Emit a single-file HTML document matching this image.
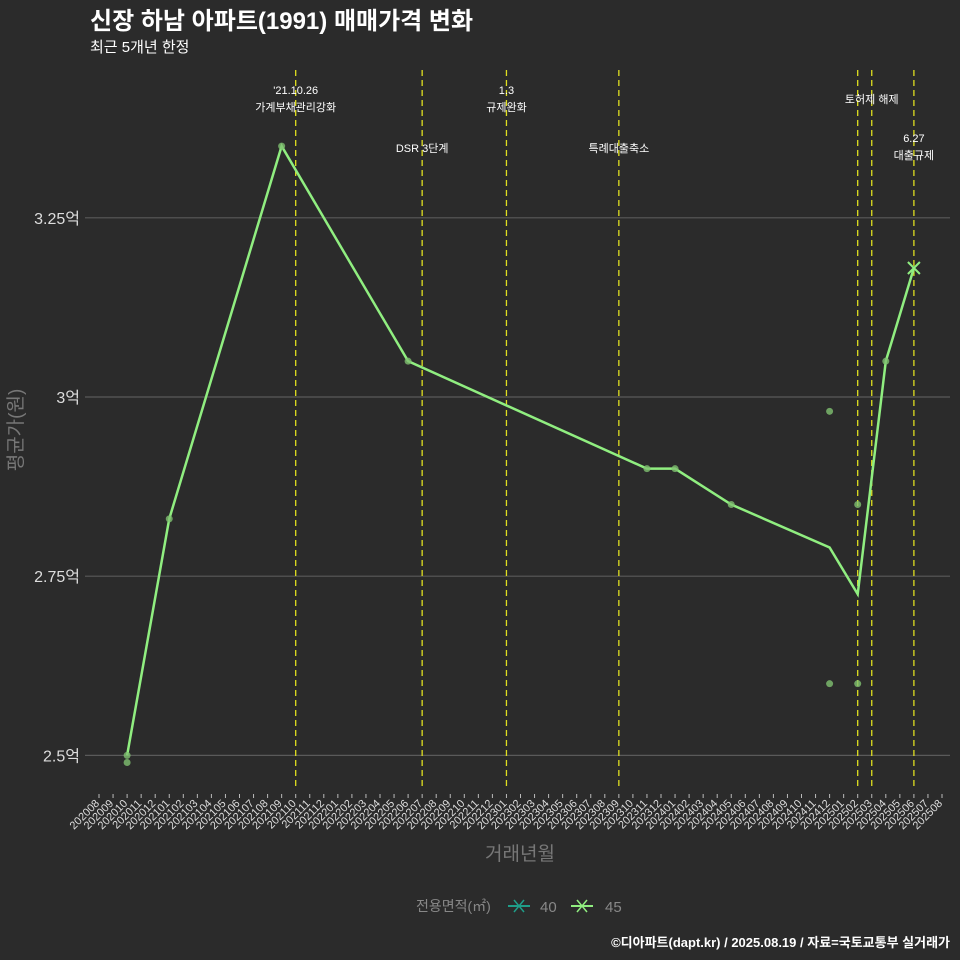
<!DOCTYPE html>
<html><head><meta charset="utf-8"><style>
html,body{margin:0;width:960px;height:960px;overflow:hidden;background:#2b2b2b;}
svg{display:block;}
svg text{font-family:"Liberation Sans","Noto Sans CJK KR",sans-serif;}
</style></head><body>
<svg id="c" width="960" height="960" xmlns="http://www.w3.org/2000/svg">
<rect width="960" height="960" fill="#2b2b2b"/>
<text x="90" y="29" font-size="24" font-weight="bold" fill="#fff">신장 하남 아파트(1991) 매매가격 변화</text>
<text x="90" y="52" font-size="15" fill="#fff">최근 5개년 한정</text>
<g id="grid"></g><g id="events"></g><g id="series"></g><g id="xaxis"></g>
<text transform="translate(22,430) rotate(-90)" text-anchor="middle" font-size="19" fill="#777">평균가(원)</text>
<text x="520" y="860" text-anchor="middle" font-size="19" fill="#777">거래년월</text>
<g>
<text x="416" y="911" font-size="14" fill="#888">전용면적(㎡)</text>
<g><line x1="508" y1="906" x2="530" y2="906" stroke="#1f9e89" stroke-width="2"/><path d="M514,900L524,912M514,912L524,900" stroke="#1f9e89" stroke-width="1.5"/><text x="540" y="912" font-size="15" fill="#888">40</text></g>
<g><line x1="571" y1="906" x2="593" y2="906" stroke="#90ee80" stroke-width="2"/><path d="M577,900L587,912M577,912L587,900" stroke="#90ee80" stroke-width="1.5"/><text x="605" y="912" font-size="15" fill="#888">45</text></g>
</g>
<text x="950" y="947" text-anchor="end" font-size="13" font-weight="bold" fill="#fff">©디아파트(dapt.kr) / 2025.08.19 / 자료=국토교통부 실거래가</text>
</svg>
<script>
const NS="http://www.w3.org/2000/svg";
const months=[];for(let y=2020,m=8;months.length<61;){months.push(y+String(m).padStart(2,'0'));m++;if(m>12){m=1;y++;}}
const yTicks=[2.5,2.75,3,3.25];
const yTickLabels=["2.5억","2.75억","3억","3.25억"];
const lineMonths=["202010","202101","202109","202206","202311","202401","202405","202412","202502","202504","202506"];
const lineValues=[2.5,2.83,3.35,3.05,2.9,2.9,2.85,2.79,2.725,3.05,3.18];
const dotMonths=["202010","202010","202101","202109","202206","202311","202401","202405","202412","202412","202502","202502","202504"];
const dotValues=[2.5,2.49,2.83,3.35,3.05,2.9,2.9,2.85,2.98,2.6,2.85,2.6,3.05];
const eventMonths=["202110","202207","202301","202309","202502","202503","202506"];
const eventLabels=[["'21.10.26","가계부채관리강화"],["DSR 3단계"],["1.3","규제완화"],["특례대출축소"],[],["토허제 해제"],["6.27","대출규제"]];
const eventLabelY=[90,148,90,148,0,99,138];
const xs=m=>99+months.indexOf(m)*14.05;
const ys=v=>397-(v-3)*716.7;
function mk(t,a,p){const e=document.createElementNS(NS,t);for(const k in a)e.setAttribute(k,a[k]);(p||document.getElementById('c')).appendChild(e);return e;}
const G=document.getElementById('grid'),E=document.getElementById('events'),S=document.getElementById('series'),X=document.getElementById('xaxis');
yTicks.forEach((v,i)=>{
 const l=mk('line',{x1:85,x2:950,y1:ys(v),y2:ys(v),stroke:'#5a5a5a','stroke-width':1.2},G);
 
 
 const t=mk('text',{x:80,y:ys(v)+6,'text-anchor':'end','font-size':16,fill:'#ddd'},G);t.textContent=yTickLabels[i];
 
 
});
eventMonths.forEach((m,i)=>{
 const l=mk('line',{x1:xs(m),x2:xs(m),y1:70,y2:790,stroke:'#e0e020','stroke-width':1.3,'stroke-dasharray':'6,4'},E);
 
 
 eventLabels[i].forEach((s,j)=>{const t=mk('text',{x:xs(m),y:eventLabelY[i]+j*17+4,'text-anchor':'middle','font-size':11,fill:'#fff'},E);t.textContent=s;
 
 });
});
const p=mk('polyline',{points:lineMonths.map((m,i)=>xs(m)+','+ys(lineValues[i])).join(' '),fill:'none',stroke:'#90ee80','stroke-width':2.5},S);


dotMonths.forEach((m,i)=>{const c=mk('circle',{cx:xs(m),cy:ys(dotValues[i]),r:3.5,fill:'#7fc070','fill-opacity':0.8},S);
 
 });
const lx=xs(lineMonths[lineMonths.length-1]),ly=ys(lineValues[lineValues.length-1]);
const xm=mk('path',{d:`M${lx-6},${ly-6}L${lx+6},${ly+6}M${lx-6},${ly+6}L${lx+6},${ly-6}`,stroke:'#90ee80','stroke-width':2},S);


months.forEach(m=>{
 const x=xs(m);
 const tk=mk('line',{x1:x,x2:x,y1:794,y2:798,stroke:'#bbb'},X);
 
 
 const t=mk('text',{x:x+1,y:804,'text-anchor':'end','font-size':11,fill:'#ddd',transform:`rotate(-45 ${x+1} 804)`},X);t.textContent=m;
 
 
});
</script>
</body></html>
